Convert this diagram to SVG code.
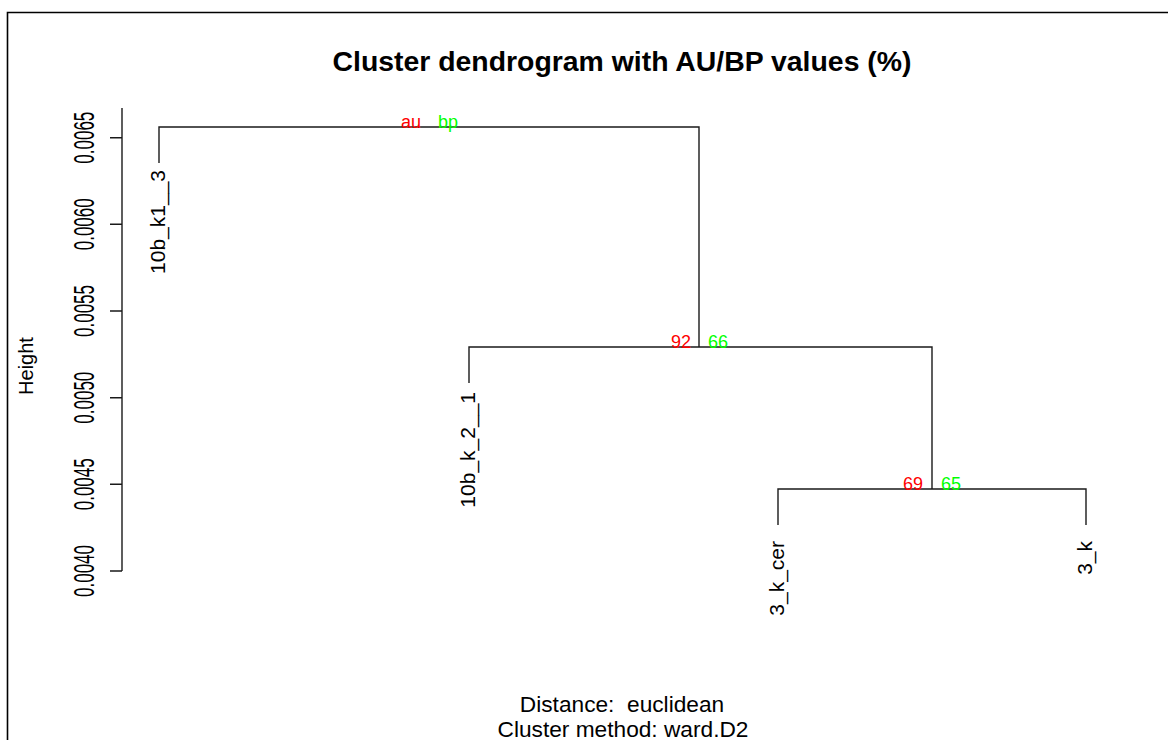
<svg xmlns="http://www.w3.org/2000/svg" width="1168" height="740" viewBox="0 0 1168 740">
<style>
  text { font-family: "Liberation Sans", Arial, sans-serif; fill: #000; }
  .title { font-weight: bold; font-size: 28.4px; text-anchor: middle; }
  .sub { font-size: 22.7px; text-anchor: middle; white-space: pre; }
  .tick { font-size: 17px; text-anchor: middle; }
  .leaf { font-size: 21px; text-anchor: end; }
  .au { font-size: 18px; fill: #ff0000; text-anchor: end; }
  .bp { font-size: 18px; fill: #00ff00; text-anchor: start; }
  .ln { stroke: #1a1a1a; stroke-width: 1.4; fill: none; }
  .frame { stroke: #000; stroke-width: 1.6; fill: none; }
</style>
<rect width="1168" height="740" fill="#fff"/>
<path class="frame" d="M7.5 740 V12.5 H1168"/>
<text class="title" x="622" y="71">Cluster dendrogram with AU/BP values (%)</text>
<g id="axis">
  <path class="ln" d="M122 108 V571 M110 137.7 H122 M110 224.3 H122 M110 311 H122 M110 397.7 H122 M110 484.3 H122 M110 571 H122"/>
  <text class="tick" transform="translate(94,137.7) rotate(-90) scale(1,1.75)">0.0065</text>
  <text class="tick" transform="translate(94,224.3) rotate(-90) scale(1,1.75)">0.0060</text>
  <text class="tick" transform="translate(94,311) rotate(-90) scale(1,1.75)">0.0055</text>
  <text class="tick" transform="translate(94,397.7) rotate(-90) scale(1,1.75)">0.0050</text>
  <text class="tick" transform="translate(94,484.3) rotate(-90) scale(1,1.75)">0.0045</text>
  <text class="tick" transform="translate(94,571) rotate(-90) scale(1,1.75)">0.0040</text>
  <text style="font-size:20px;text-anchor:middle" transform="translate(33,366) rotate(-90)">Height</text>
</g>
<g id="connectors">
  <path class="ln" d="M159 163 V127 H699 V347"/>
  <path class="ln" d="M469 383 V347 H932 V489"/>
  <path class="ln" d="M778 525 V489 H1086 V525"/>
</g>
<g id="leaf-10b_k1__3">
  <text class="leaf" transform="translate(165,170) rotate(-90)">10b_k1__3</text>
</g>
<g id="leaf-10b_k_2__1">
  <text class="leaf" transform="translate(475,392) rotate(-90)">10b_k_2__1</text>
</g>
<g id="leaf-3_k_cer">
  <text class="leaf" transform="translate(784,541) rotate(-90)">3_k_cer</text>
</g>
<g id="leaf-3_k">
  <text class="leaf" transform="translate(1092,541) rotate(-90)">3_k</text>
</g>
<g id="node-root">
  <text class="au" x="421" y="128">au</text>
  <text class="bp" x="438" y="128">bp</text>
</g>
<g id="node-92-66">
  <text class="au" x="691" y="348">92</text>
  <text class="bp" x="708" y="348">66</text>
</g>
<g id="node-69-65">
  <text class="au" x="923" y="490">69</text>
  <text class="bp" x="941" y="490">65</text>
</g>
<g id="footer">
  <text class="sub" x="622" y="712">Distance:&#160; euclidean</text>
  <text class="sub" x="623" y="737">Cluster method: ward.D2</text>
</g>
</svg>
